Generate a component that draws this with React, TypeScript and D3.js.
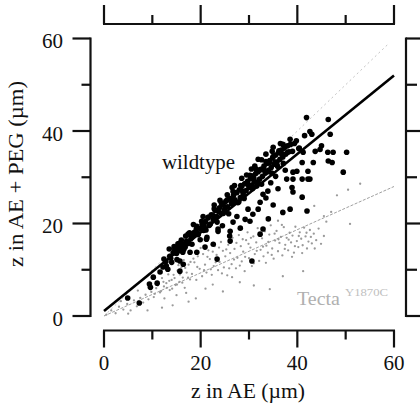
import React from "react";
import * as d3 from "d3";

const majorTicks = [0, 20, 40, 60];
const minorTicks = [10, 30, 50];
const xTitle = "z in AE (µm)";
const yTitle = "z in AE + PEG (µm)";
const wildLabel = "wildtype";
const tectaLabel = "Tecta";
const tectaSup = "Y1870C";

// fitted lines: [x, y] end points in data units
const wildFit: [number, number][] = [[0, 1.1], [60, 52]];
const tectaFit: [number, number][] = [[0, 0], [60, 28]];
const identity: [number, number][] = [[0, 0], [59, 59]];

const wildtype: [number, number][] = [
  [4.9, 3.9], [7.3, 2.8], [9.4, 6.9], [9.6, 6.2], [10.2, 8.4], [11, 7.1], [11.6, 9.5], [12.2, 10.6],
  [12.8, 11.8], [13.2, 10.1], [13.6, 12.9], [14, 11.6], [14.3, 13.6], [14.7, 14.2], [15, 13.5],
  [15.2, 14.8], [15.5, 14.1], [15.7, 9.7], [15.7, 11.9], [15.9, 15.3], [16.1, 14.5], [16.3, 13.8],
  [16.4, 11.2], [16.6, 15.6], [16.8, 14.9], [17.1, 16.2], [17.4, 17.7], [17.8, 13.8], [18, 16.8],
  [18.3, 17.4], [18.7, 18.1], [19.2, 19.4], [19.2, 13.8], [19.5, 17.6], [19.9, 18.9], [20.3, 19.8],
  [20.6, 18.5], [21, 20.4], [21.2, 16.6], [21.5, 21.2], [21.8, 19.6], [22.2, 21.9], [22.6, 15.5],
  [22.6, 20.8], [23, 22.8], [23.3, 21.5], [23.6, 18.3], [23.6, 18.8], [23.9, 23.4], [24.2, 22.2],
  [24.6, 24.1], [24.9, 22.9], [25.2, 24.8], [25.6, 23.6], [26, 25.4], [26, 17.3], [26.1, 18.3],
  [26.1, 16.2], [26.4, 24.3], [26.7, 20.3], [26.8, 26.1], [27.1, 25.1], [27.4, 26.7], [27.7, 24.5],
  [28, 27.3], [28.2, 25.6], [28.5, 28], [28.8, 26.4], [29.1, 28.6], [29.2, 20.9], [29.4, 27.1],
  [29.7, 29.1], [29.8, 23.1], [30, 27.8], [30.2, 20.5], [30.3, 29.7], [30.6, 28.3], [30.9, 30.3],
  [31.1, 29], [31.4, 30.8], [31.6, 28.1], [31.9, 31.2], [31.9, 33.9], [31.9, 23.1], [32.2, 29.6],
  [32.3, 24.6], [32.3, 17.7], [32.5, 31.7], [32.8, 30.2], [32.9, 26.3], [32.9, 18.8], [33.1, 32.4],
  [33.4, 30.9], [33.7, 33], [33.9, 27], [34, 31.5], [34.3, 33.6], [34.6, 32.1], [34.9, 34.2],
  [35.2, 32.8], [35.5, 34.8], [35.8, 33.3], [36.1, 35.3], [36.4, 33.9], [36.7, 35.9], [37, 37.1],
  [37, 34.4], [37, 22.4], [37.3, 36.3], [37.6, 35], [37.8, 29.6], [38, 36.8], [38.3, 35.5],
  [38.5, 38.2], [38.5, 23.1], [38.9, 27.8], [39.1, 31.1], [39.1, 29.6], [39.1, 26.8], [39.4, 37.3],
  [39.9, 31.3], [40.3, 36.2], [41, 33.2], [41, 29.6], [41, 25.7], [41.2, 35.4], [41.9, 42.9],
  [42, 22.7], [42.2, 31.3], [42.2, 29.6], [42.6, 39.9], [42.6, 29.6], [43.3, 33.2], [43.7, 35.6],
  [44.7, 36], [45, 36.8], [46.3, 35.4], [46.4, 42.5], [46.4, 33.5], [46.8, 39.3], [47.2, 33.2],
  [47.4, 35.4], [49.5, 31.1], [50.2, 35.4], [43, 39.3],
  [20.5, 21.5], [24, 25], [28.5, 29.8], [30.5, 31.8], [33.5, 35], [35, 36.5], [22.8, 24],
  [18.5, 19.8], [26.5, 27.8], [24.5, 19.5], [27.5, 21.5], [28.2, 19], [30.8, 22], [33.5, 25.5],
  [34.5, 28.8], [35.5, 30.2], [36, 27.5], [37.5, 31.5], [35, 24], [34, 21],
  [23.4, 12.3], [30.6, 11.9], [21.3, 17], [20.9, 14.9], [15.3, 15.6], [16, 16.4], [14.5, 15],
  [25.5, 26.2], [29.5, 30.5], [31.2, 32.4], [27, 28.2], [32.6, 33.8], [34.8, 35.6], [36.5, 37.3],
  [12.4, 12.3], [12.9, 10.8], [13.5, 14.5], [13.8, 12.5], [14.6, 14.1], [15.1, 12.2], [15.6, 15.7],
  [16, 15], [16.5, 14.4], [16.9, 17.3], [17.4, 15.7], [17.7, 18], [18.2, 15.5], [18.6, 17.7],
  [19.1, 18.8], [19.4, 17.9], [19.9, 16.5], [20.2, 20.5], [20.7, 19.5], [21.1, 18.6], [21.6, 21.4],
  [22, 19.9], [22.5, 21.8], [22.8, 23.2], [23.4, 20.3], [23.7, 22.6], [24.3, 24.4], [24.7, 22.2],
  [25, 23.6], [25.5, 25.1], [25.8, 22.1], [26.3, 25.2], [26.7, 26.9], [27, 24.7], [27.5, 26.7],
  [27.9, 24.7], [28.3, 28.2], [28.7, 26.9], [29, 25.4], [29.4, 28.7], [29.9, 28.3], [30.2, 30.4],
  [30.7, 27.5], [31, 29.8], [31.5, 31.7], [31.8, 29], [32.3, 31.6], [32.6, 28.5], [33, 31.6],
  [33.5, 33.4], [33.8, 31.2], [34.2, 33.1], [34.7, 30.9], [35, 34.5], [35.4, 33.3], [35.9, 32.4],
  [36.2, 35.7], [36.8, 35], [37.1, 33], [37.6, 36.7], [38, 35.4], [38.6, 37.1], [39, 35.6],
  [39.8, 37.9], [40.4, 36.3], [41.5, 39],
];

const tecta: [number, number][] = [
  [0.5, 0.3], [1.5, 1.2], [2.4, 0.6], [3.1, 2], [4, 1.4], [4.8, 2.6], [5.5, 1.2], [6.2, 3.4],
  [6.8, 2.1], [7.5, 3.9], [8.1, 2.9], [8.6, 4.6], [9.2, 3.6], [9.8, 5.2], [10.3, 4.1], [3.5, 3.2],
  [7, 5.5], [5, 0.5],
  [10.8, 6], [11.2, 7.3], [11.6, 5.1], [12, 8.2], [12.4, 6.4], [12.9, 7.1], [13.3, 9], [13.6, 5.6],
  [14, 7.8], [14.4, 8.9], [14.8, 6.7], [15.2, 9.8], [15.6, 7.4], [16, 10.5], [16.3, 8.3], [16.7, 6.1],
  [17.1, 9.4], [17.5, 11.1], [17.8, 7.9], [12.5, 3.8], [15, 4.5], [17, 5],
  [18.2, 9.1], [18.7, 11.6], [19.1, 7.8], [19.4, 12.9], [19.8, 10.2], [20.3, 8.6], [20.5, 13.4],
  [20.9, 11.1], [21.2, 9.4], [21.6, 14.2], [21.9, 12.3], [22.3, 8.9], [22.7, 10.8], [22.9, 15.1],
  [23.3, 13.2], [23.6, 9.9], [23.9, 11.7], [24.2, 16], [24.6, 14.1], [24.8, 10.5], [25.1, 12.9],
  [25.5, 8.8], [25.7, 15.4], [26.1, 13.6], [26.4, 11.2], [26.6, 16.9], [27, 14.5], [27.3, 10.3],
  [27.6, 12.6], [27.9, 17.5], [28.3, 15.1], [28.5, 11.8], [28.8, 13.9], [29.1, 9.7], [29.4, 16.4],
  [29.7, 18.1], [30, 12.5], [30.3, 14.8], [30.6, 10.8], [30.9, 17.2], [31.2, 13.4], [31.5, 15.9],
  [31.8, 19], [32.1, 11.9], [32.4, 14.3], [32.7, 16.8], [33, 12.9], [33.3, 18.3], [33.6, 15.2],
  [33.9, 13.7], [34.2, 17.6], [34.5, 19.6], [34.8, 14.6], [35.1, 12.4], [35.4, 16.3], [35.7, 18.4],
  [36, 14], [36.3, 15.8], [36.6, 17.1], [36.9, 13.1], [37.2, 19.2], [37.5, 15.4], [37.8, 16.9],
  [38.1, 14.2], [38.4, 18], [38.7, 15.9], [39, 17.4], [39.3, 13.7], [39.6, 19.3], [39.9, 16.2],
  [40.2, 14.9], [40.5, 18.1], [40.8, 16.7], [41.1, 15.3], [41.4, 19.1], [41.7, 17.2], [42, 14.6],
  [42.3, 16.1], [42.6, 18.6], [43, 15.7], [43.4, 17.8], [43.9, 16.4], [44.4, 18.9], [44.9, 15.6],
  [45.5, 17.3],
  [18.5, 12.4], [19.3, 10.6], [20, 14.7], [20.7, 9.9], [21.4, 12.8], [22.1, 10.1], [22.5, 13.9],
  [23.1, 11.6], [23.8, 14.8], [24.4, 9.2], [25.3, 14.4], [25.9, 10.3], [26.2, 17.8], [26.9, 12.2],
  [27.4, 15.8], [28.1, 10.9], [28.7, 16.6], [29.2, 12.8], [29.9, 15.6], [30.4, 16.9], [31, 11.4],
  [31.6, 14.1], [32.3, 17.7], [32.9, 15], [33.5, 11.5], [34, 16], [34.7, 13.2], [35.3, 17.8],
  [36.1, 16.6], [36.8, 19.7], [37.4, 14.5], [38.2, 16.5], [38.9, 12.8], [39.5, 15.1], [40.3, 17.3],
  [41, 13.6], [41.9, 18], [42.8, 17.1], [43.6, 14.6], [17.4, 8.3], [16.8, 10.4], [16.2, 7.2],
  [15.7, 9], [15.1, 6.8], [14.6, 8.2], [14.1, 5.9], [13.5, 7.6], [13, 6.1], [12.3, 7.4], [11.8, 5.4],
  [11.1, 6.6], [10.5, 4.8], [17.9, 11.7], [16.5, 12.1], [15.4, 11],
  [24.6, 5.3], [26.5, 8.4], [28.1, 7.3], [31, 6.6], [34.3, 5.8], [37, 8.6], [41.2, 9.7], [21, 5.9],
  [19, 3.8], [45.5, 21.6], [47, 22.5], [48.2, 26.1], [50.5, 27.3], [53, 28.6], [50.9, 19.9],
  [46, 20.4], [43.5, 23.8], [38.8, 22.9], [36, 20.6], [17.5, 3.1], [22.5, 6.8], [14.2, 2.3],
  [9, 1.2], [12, 1.8],
];

const W = 420;
const H = 407;
const x = d3.scaleLinear().domain([0, 60]).range([104, 394]);
const y = d3.scaleLinear().domain([0, 60]).range([316, 38.5]);

const leftX = 90.5;
const rightX = 406;
const bottomY = 330.5;
const topY = 24;
const majorLen = 18;
const minorLen = 9;

const font = "'Liberation Serif', 'Times New Roman', serif";

export default function App() {
  const line = d3
    .line<[number, number]>()
    .x((d) => x(d[0]))
    .y((d) => y(d[1]));
  const axisStroke = { stroke: "#111", strokeWidth: 2.2, fill: "none" };

  return (
    <svg
      width={W}
      height={H}
      style={{ position: "absolute", left: 0, top: 0, background: "#fff" }}
      fontFamily={font}
    >
      <rect width={W} height={H} fill="#fff" />

      {/* identity dotted line */}
      <path d={line(identity) || ""} stroke="#c4c4c4" strokeWidth={1} strokeDasharray="2,3" fill="none" />
      {/* tecta fit line */}
      <path d={line(tectaFit) || ""} stroke="#a0a0a0" strokeWidth={1} strokeDasharray="3,1.5" fill="none" />

      {/* tecta points */}
      <g fill="#9a9a9a">
        {tecta.map((d, i) => (
          <circle key={i} cx={x(d[0])} cy={y(d[1])} r={1.15} />
        ))}
      </g>

      {/* wildtype points */}
      <g fill="#000">
        {wildtype.map((d, i) => (
          <circle key={i} cx={x(d[0])} cy={y(d[1])} r={2.8} />
        ))}
      </g>

      {/* wildtype fit line */}
      <path d={line(wildFit) || ""} stroke="#000" strokeWidth={2.6} fill="none" />

      {/* left axis */}
      <line x1={leftX} x2={leftX} y1={y(60) - 1} y2={y(0) + 1} {...axisStroke} />
      {majorTicks.map((t) => (
        <g key={"lm" + t}>
          <line x1={leftX - majorLen} x2={leftX} y1={y(t)} y2={y(t)} {...axisStroke} />
          <text x={63} y={y(t) + 9.5} textAnchor="end" fontSize={21} fill="#111">
            {t}
          </text>
        </g>
      ))}
      {minorTicks.map((t) => (
        <line key={"ln" + t} x1={leftX - minorLen} x2={leftX} y1={y(t)} y2={y(t)} {...axisStroke} />
      ))}

      {/* right axis */}
      <line x1={rightX} x2={rightX} y1={y(60) - 1} y2={y(0) + 1} {...axisStroke} />
      {majorTicks.map((t) => (
        <line key={"rm" + t} x1={rightX} x2={rightX + majorLen} y1={y(t)} y2={y(t)} {...axisStroke} />
      ))}
      {minorTicks.map((t) => (
        <line key={"rn" + t} x1={rightX} x2={rightX + 11} y1={y(t)} y2={y(t)} {...axisStroke} />
      ))}

      {/* bottom axis */}
      <line x1={x(0) - 1} x2={x(60) + 1} y1={bottomY} y2={bottomY} {...axisStroke} />
      {majorTicks.map((t) => (
        <g key={"bm" + t}>
          <line x1={x(t)} x2={x(t)} y1={bottomY} y2={bottomY + majorLen - 1} {...axisStroke} />
          <text x={x(t)} y={370} textAnchor="middle" fontSize={21} fill="#111">
            {t}
          </text>
        </g>
      ))}
      {minorTicks.map((t) => (
        <line key={"bn" + t} x1={x(t)} x2={x(t)} y1={bottomY} y2={bottomY + minorLen} {...axisStroke} />
      ))}

      {/* top axis */}
      <line x1={x(0) - 1} x2={x(60) + 1} y1={topY} y2={topY} {...axisStroke} />
      {majorTicks.map((t) => (
        <line key={"tm" + t} x1={x(t)} x2={x(t)} y1={topY} y2={topY - majorLen - 1} {...axisStroke} />
      ))}
      {minorTicks.map((t) => (
        <line key={"tn" + t} x1={x(t)} x2={x(t)} y1={topY} y2={topY - minorLen} {...axisStroke} />
      ))}

      {/* titles */}
      <text x={248} y={398} textAnchor="middle" fontSize={20} fill="#111" textLength={114} lengthAdjust="spacingAndGlyphs">
        {xTitle}
      </text>
      <text
        transform="translate(23,174) rotate(-90)"
        textAnchor="middle"
        fontSize={20}
        fill="#111"
        textLength={186}
        lengthAdjust="spacingAndGlyphs"
      >
        {yTitle}
      </text>

      {/* labels */}
      <text x={162} y={169} fontSize={20} fill="#111" textLength={73} lengthAdjust="spacingAndGlyphs">
        {wildLabel}
      </text>
      <text x={297} y={305} fontSize={18} fill="#b0b0b0" textLength={43} lengthAdjust="spacingAndGlyphs">
        {tectaLabel}
      </text>
      <text x={345} y={296} fontSize={10} fill="#c0c0c0" textLength={43} lengthAdjust="spacingAndGlyphs">
        {tectaSup}
      </text>
    </svg>
  );
}
